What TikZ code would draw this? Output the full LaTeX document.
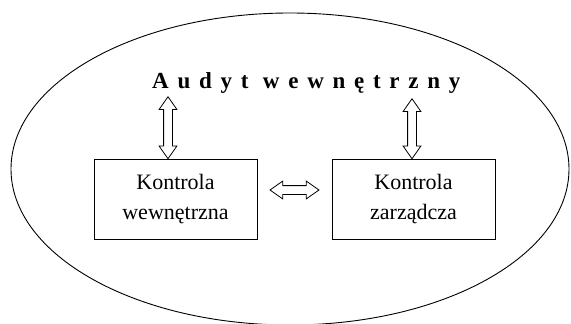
\documentclass[tikz,border=0pt]{standalone}
\usepackage{fontspec}
\setmainfont{Liberation Serif}
\usetikzlibrary{shapes.arrows, positioning, calc}

\begin{document}
\begin{tikzpicture}[x=1pt, y=-1pt,
		caja/.style = {draw, line width=1pt, minimum width=163pt, minimum height=80pt,
			inner sep=0pt, align=center, font=\fontsize{22}{30}\selectfont},
		flecha/.style = {double arrow, draw, line width=0.8pt, fill=white, inner sep=0pt,
			inner ysep=4pt, double arrow head extend=4.5pt, double arrow tip angle=70}]
			\useasboundingbox (0,0) rectangle (571,324);
			
			%% Elipsa
			\draw [line width=0.9pt] (290,169) ellipse [x radius=279, y radius=156];
			
			%% Tytul
			\node [anchor=base west, inner sep=0pt,
			font=\fontsize{23}{26}\selectfont\bfseries\addfontfeature{LetterSpace=38}]
			(audyt) at (152,88) {Audyt wewnętrzny};
			
			%% Bloki
			\node [caja] (kw) at (175.5,199) {Kontrola\\wewnętrzna};
			\node [caja, right=74pt of kw] (kz) {Kontrola\\zarządcza};
			
			%% Strzalki
			\coordinate (lt) at (168,97);
			\coordinate (rt) at (412,99);
			\node [flecha, rotate=90, minimum height=62pt] (al)
			at ($(lt)!0.5!(lt |- kw.north)$) {};
			\node [flecha, rotate=90, minimum height=60pt] (ar)
			at ($(rt)!0.5!(rt |- kz.north)$) {};
			\node [flecha, minimum height=49pt] (ah)
			at ($($(kw.east)!0.5!(kz.west)$) + (0,-9)$) {};
		\end{tikzpicture}
\end{document}
